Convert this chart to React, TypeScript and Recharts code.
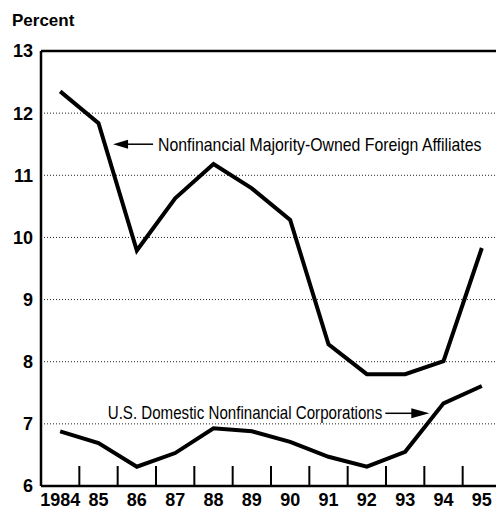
import React from 'react';
import { LineChart, Line, XAxis, YAxis, CartesianGrid, ReferenceLine, ReferenceDot } from 'recharts';

const years = [1984, 1985, 1986, 1987, 1988, 1989, 1990, 1991, 1992, 1993, 1994, 1995];
const foreignAffiliates = [12.35, 11.84, 9.79, 10.63, 11.18, 10.79, 10.28, 8.28, 7.8, 7.8, 8.01, 9.83];
const domesticCorps = [6.88, 6.69, 6.31, 6.53, 6.93, 6.88, 6.71, 6.47, 6.31, 6.55, 7.33, 7.61];
const yTicks = [6, 7, 8, 9, 10, 11, 12, 13];
const separatorTicks = [1984.5, 1985.5, 1986.5, 1987.5, 1988.5, 1989.5, 1990.5, 1991.5, 1992.5, 1993.5, 1994.5];
const yearLabels = ['1984', '85', '86', '87', '88', '89', '90', '91', '92', '93', '94', '95'];
const faLabel = 'Nonfinancial Majority-Owned Foreign Affiliates';
const dcLabel = 'U.S. Domestic Nonfinancial Corporations';

const data = years.map((year, i) => ({ year, fa: foreignAffiliates[i], dc: domesticCorps[i] }));
const xTicks = [...years, ...separatorTicks].sort((a, b) => a - b);

const boldFont = "'Liberation Sans', Arial, sans-serif";
const textFont = "'Liberation Sans', Arial, sans-serif";

const XTick = (props: any) => {
  const { x, y, payload } = props;
  const v = payload.value as number;
  if (Number.isInteger(v)) {
    const idx = years.indexOf(v);
    return (
      <text x={x} y={y + 20} textAnchor="middle" fontSize={18} fontWeight="bold" fontFamily={boldFont} fill="#000">
        {yearLabels[idx]}
      </text>
    );
  }
  return <line x1={x} x2={x} y1={y} y2={y - 20} stroke="#000" strokeWidth={2} />;
};

const FaAnnotation = (props: any) => {
  const { cx, cy } = props;
  return (
    <g>
      <polygon points={`${cx},${cy} ${cx + 15},${cy - 4.5} ${cx + 15},${cy + 4.5}`} fill="#000" />
      <line x1={cx + 12} x2={cx + 40} y1={cy} y2={cy} stroke="#000" strokeWidth={1.5} />
      <g transform={`translate(${cx + 45},${cy + 7}) scale(0.88,1)`}>
        <text x={0} y={0} fontSize={18} fontFamily={textFont} fill="#000">{faLabel}</text>
      </g>
    </g>
  );
};

const DcAnnotation = (props: any) => {
  const { cx, cy } = props;
  return (
    <g>
      <polygon points={`${cx},${cy} ${cx - 18},${cy - 5} ${cx - 18},${cy + 5}`} fill="#000" />
      <line x1={cx - 44} x2={cx - 15} y1={cy} y2={cy} stroke="#000" strokeWidth={1.5} />
      <g transform={`translate(${cx - 47},${cy + 6}) scale(0.84,1)`}>
        <text x={0} y={0} textAnchor="end" fontSize={18} fontFamily={textFont} fill="#000">{dcLabel}</text>
      </g>
    </g>
  );
};

export default function App() {
  return (
    <div style={{ position: 'absolute', left: 0, top: 0, width: 496, height: 510, overflow: 'hidden', background: '#fff' }}>
      <div style={{ position: 'absolute', left: 12, top: 11, fontSize: 17, lineHeight: '20px', fontWeight: 'bold', fontFamily: boldFont, color: '#000' }}>
        Percent
      </div>
      <LineChart width={520} height={510} data={data} margin={{ top: 51, right: 19, bottom: 0, left: 0 }}>
        <CartesianGrid horizontal={true} vertical={false} stroke="#222" strokeDasharray="1 2" strokeWidth={1} />
        <XAxis
          type="number"
          dataKey="year"
          domain={[1983.5, 1995.5]}
          ticks={xTicks}
          interval={0}
          tickLine={false}
          tickSize={0}
          tickMargin={0}
          height={24}
          tick={<XTick />}
          axisLine={{ stroke: '#000', strokeWidth: 2.5 }}
          allowDataOverflow
        />
        <YAxis
          type="number"
          domain={[6, 13]}
          ticks={yTicks}
          interval={0}
          tickLine={false}
          tickSize={0}
          tickMargin={8}
          width={41}
          axisLine={{ stroke: '#000', strokeWidth: 2.5 }}
          tick={{ fill: '#000', fontSize: 18, fontWeight: 'bold', fontFamily: boldFont }}
          allowDataOverflow
        />
        <ReferenceLine y={13} stroke="#000" strokeWidth={2.5} />
        <ReferenceLine x={1995.5} stroke="#000" strokeWidth={2.5} />
        <Line type="linear" dataKey="fa" stroke="#000" strokeWidth={4} dot={false} isAnimationActive={false} strokeLinejoin="miter" />
        <Line type="linear" dataKey="dc" stroke="#000" strokeWidth={4} dot={false} isAnimationActive={false} strokeLinejoin="miter" />
        <ReferenceDot x={1985.38} y={11.5} r={0} shape={<FaAnnotation />} />
        <ReferenceDot x={1993.63} y={7.17} r={0} shape={<DcAnnotation />} />
      </LineChart>
    </div>
  );
}
